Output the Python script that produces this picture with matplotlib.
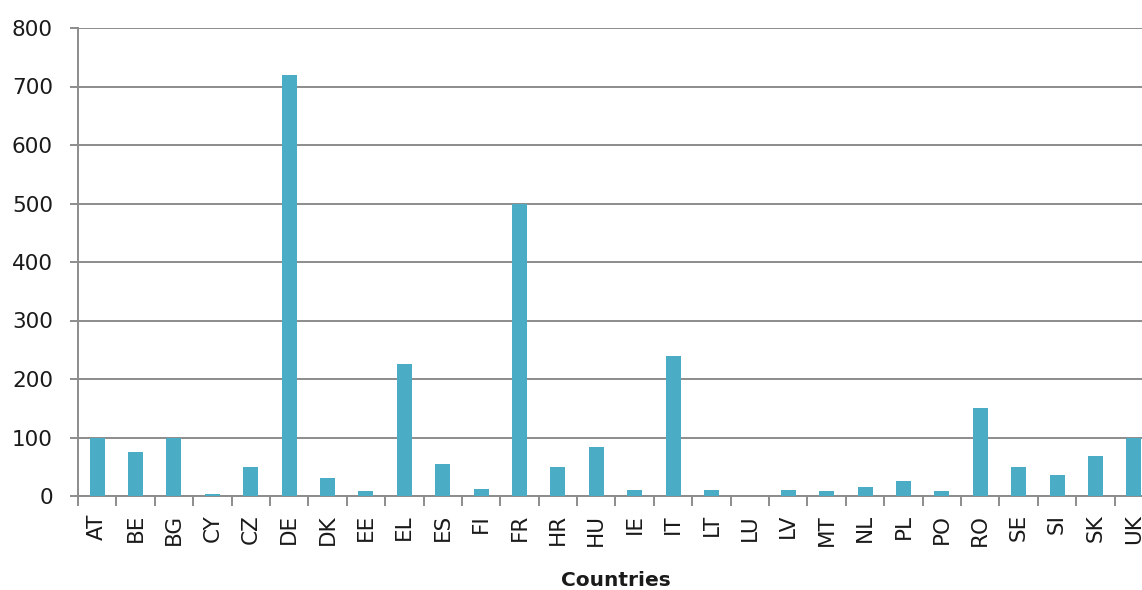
import matplotlib
matplotlib.use("Agg")
import matplotlib.pyplot as plt
import numpy as np

countries = ["AT", "BE", "BG", "CY", "CZ", "DE", "DK", "EE", "EL", "ES", "FI", "FR",
             "HR", "HU", "IE", "IT", "LT", "LU", "LV", "MT", "NL", "PL", "PO", "RO",
             "SE", "SI", "SK", "UK"]
values = [100, 75, 100, 4, 50, 720, 30, 8, 225, 55, 12, 500,
          50, 83, 11, 240, 11, 0, 11, 8, 15, 26, 8, 150,
          50, 36, 68, 100]
y_ticks = [0, 100, 200, 300, 400, 500, 600, 700, 800]

W, H = 1142, 590
fig = plt.figure(figsize=(W / 100, H / 100), dpi=100)
ax = fig.add_axes([78 / W, 1 - 496 / H, (1153 - 78) / W, (496 - 28) / H])

grid_col = "#8c8c8c"
text_col = "#1a1a1a"
x = np.arange(len(countries))
ax.bar(x, values, width=0.39, color="#4BACC6", zorder=3)

ax.set_xlim(-0.5, len(countries) - 0.5)
ax.set_ylim(0, 800)
ax.set_yticks(y_ticks)
ax.yaxis.grid(True, color=grid_col, linewidth=1.4, zorder=0)

ax.set_xticks(x)
ax.set_xticklabels(countries, rotation=90, fontsize=15.5, family="DejaVu Sans",
                   color=text_col)
ax.tick_params(axis="x", length=0, pad=13)
ax.set_xticks(np.arange(len(countries) + 1) - 0.5, minor=True)
ax.tick_params(axis="x", which="minor", length=7, width=1.4, color=grid_col)

ax.tick_params(axis="y", length=6, width=1.4, color=grid_col, pad=12,
               labelsize=15.5, labelcolor=text_col)
for lbl in ax.get_yticklabels():
    lbl.set_family("DejaVu Sans")

for side in ["top", "right"]:
    ax.spines[side].set_visible(False)
for side in ["left", "bottom"]:
    ax.spines[side].set_color(grid_col)
    ax.spines[side].set_linewidth(1.4)

ax.set_xlabel("Countries", fontsize=14.5, fontweight="bold", family="DejaVu Sans",
              color=text_col, labelpad=18)

fig.savefig("out.png", dpi=100)
